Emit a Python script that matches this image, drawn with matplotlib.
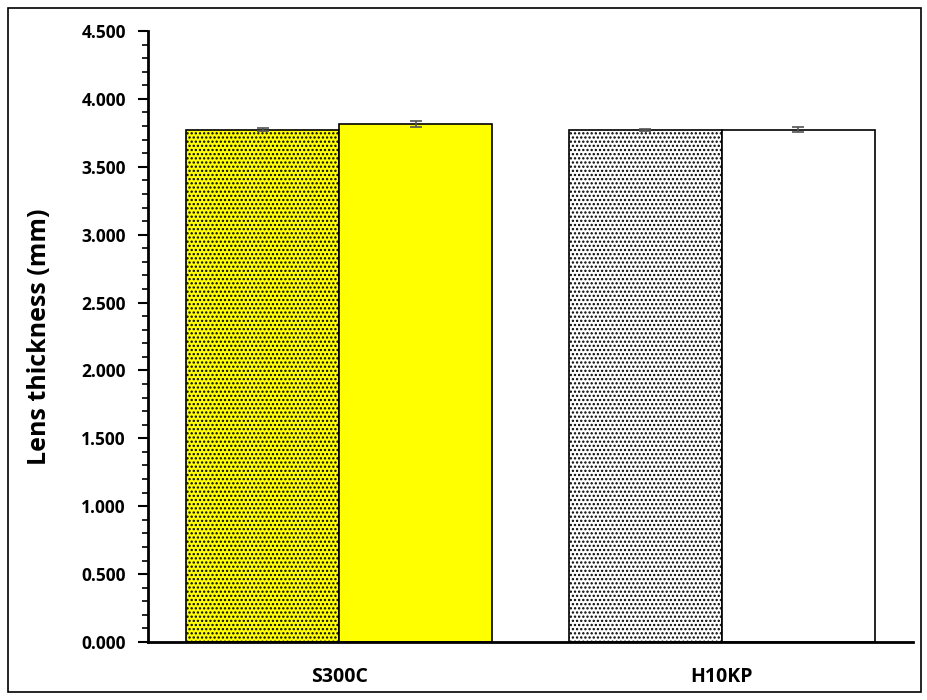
import numpy as np
import matplotlib.pyplot as plt
from matplotlib.patches import Rectangle

plt.rcParams['font.family'] = ['Open Sans', 'DejaVu Sans']
plt.rcParams['hatch.linewidth'] = 1.1
plt.rcParams['hatch.color'] = '#222222'

categories = ['S300C', 'H10KP']
series_a = [3.773, 3.770]      # dotted bars
series_b = [3.815, 3.773]      # plain bars
err_a = [0.012, 0.010]
err_b = [0.020, 0.020]
colors_a = ['#ffff00', '#ffffff']
colors_b = ['#ffff00', '#ffffff']

fig = plt.figure(figsize=(9.28, 7.0), dpi=100)
ax = fig.add_axes([148 / 928, 58 / 700, (913 - 148) / 928, (642 - 31) / 700])

x = np.arange(len(categories))
w = 0.4
ebar = dict(ecolor='#555555', elinewidth=1.2, capsize=4, capthick=1.2)
ax.bar(x - w / 2, series_a, w, color=colors_a, edgecolor='black', linewidth=1.2,
       hatch='....', yerr=err_a, error_kw=ebar)
ax.bar(x + w / 2, series_b, w, color=colors_b, edgecolor='black', linewidth=1.2,
       yerr=err_b, error_kw=ebar)

ax.set_xlim(-0.5, 1.5)
ax.set_ylim(0, 4.5)
ax.set_yticks(np.arange(0, 4.51, 0.5))
ax.set_yticks(np.arange(0, 4.51, 0.1), minor=True)
ax.set_yticklabels([f'{v:.3f}' for v in np.arange(0, 4.51, 0.5)],
                   fontsize=12.5, fontweight='bold')
ax.set_xticks(x)
ax.set_xticklabels(categories, fontsize=14, fontweight='bold')
ax.tick_params(axis='x', length=0, pad=18)
ax.tick_params(axis='y', which='major', length=7, width=1.5, direction='out', pad=9)
ax.tick_params(axis='y', which='minor', length=4, width=1.2, direction='out')
ax.set_ylabel('Lens thickness (mm)', fontsize=18, fontweight='bold', labelpad=21)

for side in ['top', 'right']:
    ax.spines[side].set_visible(False)
for side in ['left', 'bottom']:
    ax.spines[side].set_linewidth(2)

# outer frame around the whole figure
fig.patches.append(Rectangle((8 / 928, 8 / 700), 913 / 928, 684 / 700,
                             transform=fig.transFigure, fill=False,
                             edgecolor='black', linewidth=1.2))

fig.savefig('out.png', dpi=100)
